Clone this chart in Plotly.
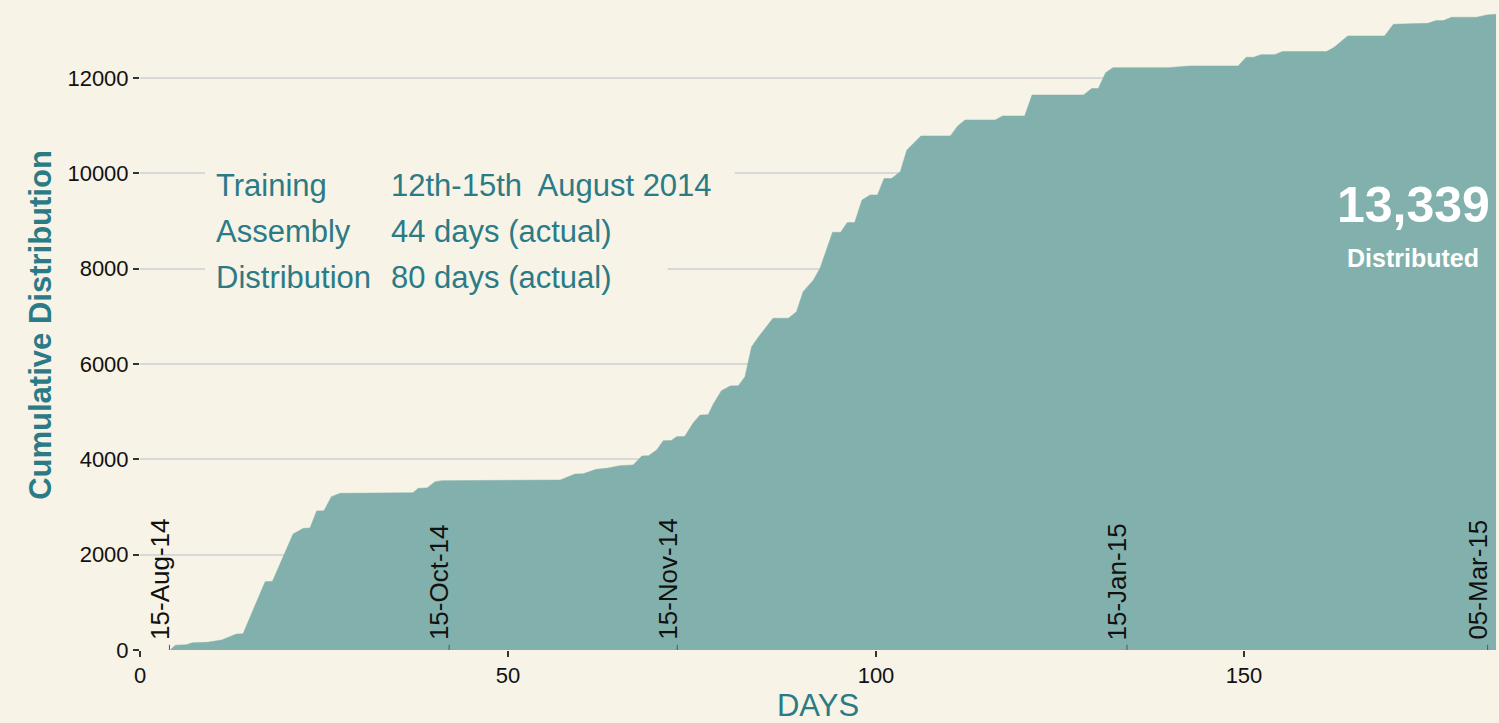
import plotly.graph_objects as go

# ---- data ----
days = [4.1, 4.8, 6.3, 7.1, 9.1, 11.1, 13.1, 14.0, 17.0, 18.0, 20.8, 22.2, 23.1, 24.0, 25.0,
        26.0, 27.2, 37.1, 37.8, 39.0, 40.1, 41.0, 57.1, 59.1, 60.2, 62.0, 63.4, 65.2, 67.0,
        68.2, 69.1, 70.2, 71.1, 72.2, 72.9, 74.0, 75.2, 76.1, 77.2, 77.9, 79.0, 80.2, 81.3,
        82.2, 83.1, 84.0, 86.0, 88.1, 89.2, 90.1, 91.5, 92.4, 94.1, 95.2, 96.1, 97.1, 98.1,
        99.2, 100.2, 101.1, 102.1, 103.3, 104.2, 104.9, 106.1, 110.1, 111.1, 112.1, 116.2,
        117.2, 120.2, 121.2, 128.2, 129.3, 130.2, 131.2, 132.2, 139.7, 142.6, 149.2, 150.3,
        151.3, 152.3, 154.2, 155.2, 161.2, 162.2, 164.1, 169.1, 170.3, 173.6, 175.0, 176.1,
        177.1, 178.2, 181.6, 183.0, 184.24]
cumulative = [0, 100, 110, 150, 160, 210, 335, 340, 1433, 1440, 2434, 2552, 2560, 2916, 2920,
              3217, 3287, 3300, 3392, 3400, 3532, 3552, 3566, 3692, 3695, 3790, 3811, 3867, 3881,
              4070, 4075, 4196, 4392, 4395, 4476, 4480, 4770, 4930, 4935, 5161, 5440, 5539, 5545,
              5734, 6363, 6560, 6959, 6960, 7098, 7517, 7763, 8008, 8763, 8763, 8966, 8966, 9441,
              9546, 9546, 9889, 9889, 10035, 10490, 10595, 10784, 10784, 10993, 11119, 11119,
              11203, 11203, 11644, 11644, 11777, 11777, 12112, 12217, 12217, 12252, 12252, 12434,
              12434, 12490, 12490, 12553, 12553, 12637, 12882, 12882, 13127, 13148, 13148, 13204,
              13204, 13274, 13274, 13323, 13339]

date_labels = ["15-Aug-14", "15-Oct-14", "15-Nov-14", "15-Jan-15", "05-Mar-15"]
date_days = [4, 42, 73, 134.1, 183.1]

x_ticks = [0, 50, 100, 150]
y_ticks = [0, 2000, 4000, 6000, 8000, 10000, 12000]

info_labels = ["Training", "Assembly", "Distribution"]
info_values = ["12th-15th  August 2014", "44 days (actual)", "80 days (actual)"]
info_rows_y = [9735, 8770, 7805]

total_text = "13,339"
total_caption = "Distributed"

BG = "#f7f3e6"
FILL = "#82b1ad"
TEAL = "#2b7b87"
FONT = "Liberation Sans, Arial, sans-serif"

fig = go.Figure()
fig.add_trace(go.Scatter(
    x=days, y=cumulative, mode="lines", fill="tozeroy",
    fillcolor=FILL, line=dict(color=FILL, width=0.5), hoverinfo="skip",
    showlegend=False,
))

# date markers inside the plot
for d, lab in zip(date_days, date_labels):
    fig.add_shape(type="line", xref="x", yref="paper", x0=d, x1=d, y0=0, y1=0.008,
                  line=dict(color="#555555", width=1), layer="above")
    fig.add_annotation(x=d, y=0, xref="x", yref="y", text=lab, textangle=-90,
                       showarrow=False, xanchor="right", yanchor="bottom",
                       xshift=7, yshift=8, font=dict(family=FONT, size=26, color="#111111"))

# info text block with background boxes hiding the gridlines
box_right = [80.8, 60.0, 71.7]
for lab, val, yy, xr in zip(info_labels, info_values, info_rows_y, box_right):
    fig.add_shape(type="rect", xref="x", yref="y", x0=8.8, x1=xr, y0=yy - 480, y1=yy + 480,
                  fillcolor=BG, line=dict(width=0), layer="between")
    fig.add_annotation(x=10.0, y=yy, xref="x", yref="y", text=lab, showarrow=False,
                       xanchor="left", yanchor="middle",
                       font=dict(family=FONT, size=31, color=TEAL))
    fig.add_annotation(x=33.8, y=yy, xref="x", yref="y", text=val, showarrow=False,
                       xanchor="left", yanchor="middle",
                       font=dict(family=FONT, size=31, color=TEAL))

fig.add_annotation(x=173, y=9336, xref="x", yref="y", text="<b>" + total_text + "</b>",
                   showarrow=False, xanchor="center", yanchor="middle",
                   font=dict(family=FONT, size=50, color="white"))
fig.add_annotation(x=173, y=8224, xref="x", yref="y", text="<b>" + total_caption + "</b>",
                   showarrow=False, xanchor="center", yanchor="middle",
                   font=dict(family=FONT, size=25, color="white"))

fig.update_layout(
    width=1499, height=723,
    paper_bgcolor=BG, plot_bgcolor=BG,
    margin=dict(l=140, r=3, t=0, b=73),
    font=dict(family=FONT, color="#111111"),
    xaxis=dict(
        range=[0, 184.24], tickvals=x_ticks, showgrid=False, zeroline=False, showline=False,
        ticks="outside", ticklen=6, tickwidth=2, tickcolor="#333333",
        tickfont=dict(family=FONT, size=22, color="#111111"),
        title=dict(text="DAYS", font=dict(family=FONT, size=31, color=TEAL), standoff=3),
    ),
    yaxis=dict(
        range=[0, 13636], tickvals=y_ticks, tickformat="d", showgrid=True,
        gridcolor="#d8d8d8", gridwidth=2, zeroline=False, showline=False,
        ticks="outside", ticklen=6, tickwidth=2, tickcolor="#333333",
        tickfont=dict(family=FONT, size=22, color="#111111"),
        title=dict(text="<b>Cumulative Distribution</b>",
                   font=dict(family=FONT, size=31, color=TEAL), standoff=6),
    ),
)

fig.write_html("out.html", config={"displayModeBar": False},
               post_script="document.body.style.margin='0';")
